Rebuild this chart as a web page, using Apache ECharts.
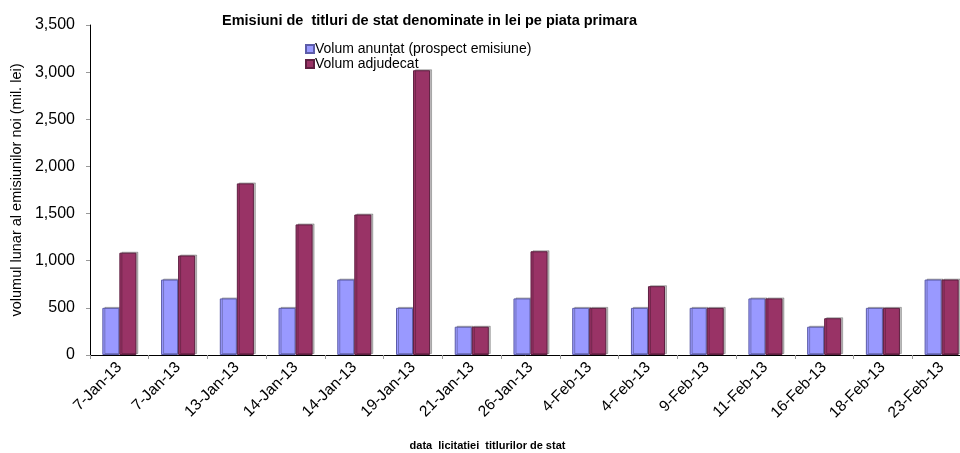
<!DOCTYPE html>
<html>
<head>
<meta charset="utf-8">
<script src="https://cdn.jsdelivr.net/npm/echarts@6/dist/echarts.min.js"></script>
<style>
  html, body { margin: 0; padding: 0; background: #fff; }
  #chart { width: 960px; height: 453px; }
</style>
</head>
<body>
<div id="chart"></div>
<script>
var dates = ['7-Jan-13', '7-Jan-13', '13-Jan-13', '14-Jan-13', '14-Jan-13', '19-Jan-13', '21-Jan-13',
  '26-Jan-13', '4-Feb-13', '4-Feb-13', '9-Feb-13', '11-Feb-13', '16-Feb-13', '18-Feb-13', '23-Feb-13'];
var anuntat = [500, 800, 600, 500, 800, 500, 300, 600, 500, 500, 500, 600, 300, 500, 800];
var adjudecat = [1085, 1055, 1820, 1385, 1490, 3020, 300, 1100, 500, 730, 500, 600, 390, 500, 800];
var yTicks = [0, 500, 1000, 1500, 2000, 2500, 3000, 3500];

var myChart = echarts.init(document.getElementById('chart'));
var font = 'Liberation Sans, Arial, sans-serif';

myChart.setOption({
  backgroundColor: '#fff',
  animation: false,
  textStyle: { fontFamily: font },
  title: {
    text: 'Emisiuni de  titluri de stat denominate in lei pe piata primara',
    left: 217,
    top: 8,
    textStyle: { fontSize: 14.5, fontWeight: 'bold', color: '#000', fontFamily: font }
  },
  legend: {
    orient: 'vertical',
    left: 300,
    top: 37,
    itemWidth: 8,
    itemHeight: 8,
    itemGap: 1,
    icon: 'rect',
    textStyle: { fontSize: 14, color: '#000', fontFamily: font, padding: [0, 0, 0, -4] },
    data: ['Volum anunțat (prospect emisiune)', 'Volum adjudecat']
  },
  grid: { left: 90, width: 881, top: 25, bottom: 98, containLabel: false, outerBoundsMode: 'none' },
  xAxis: {
    type: 'category',
    data: dates,
    name: 'data  licitatiei  titlurilor de stat',
    nameLocation: 'middle',
    nameGap: 85,
    nameTextStyle: { fontSize: 11, fontWeight: 'bold', color: '#000', fontFamily: font, padding: [0, 0, 0, -86] },
    axisLine: { lineStyle: { color: '#000', width: 1 } },
    axisTick: { show: true, length: 4, lineStyle: { color: '#999' } },
    axisLabel: { interval: 0, rotate: 45, fontSize: 15.5, color: '#000', margin: 10, fontFamily: font }
  },
  yAxis: {
    type: 'value',
    min: yTicks[0],
    max: yTicks[yTicks.length - 1],
    interval: 500,
    name: 'volumul lunar al emisiunilor noi (mil. lei)',
    nameLocation: 'middle',
    nameRotate: 90,
    nameGap: 66,
    nameTextStyle: { fontSize: 14.5, color: '#000', fontFamily: font },
    splitLine: { show: false },
    axisLine: { show: true, lineStyle: { color: '#000', width: 1 } },
    axisTick: { show: true, length: 4, lineStyle: { color: '#999' } },
    axisLabel: {
      fontSize: 16, color: '#000', margin: 15, fontFamily: font,
      formatter: function (v) { return v.toLocaleString('en-US'); }
    }
  },
  series: [
    {
      name: 'Volum anunțat (prospect emisiune)',
      type: 'bar',
      data: anuntat,
      barGap: '0%',
      barCategoryGap: '42%',
      itemStyle: {
        color: '#9999ff', borderColor: '#5c5ca8', borderWidth: 1,
        shadowColor: 'rgba(0,0,0,0.25)', shadowOffsetX: 2, shadowOffsetY: -1, shadowBlur: 0
      }
    },
    {
      name: 'Volum adjudecat',
      type: 'bar',
      data: adjudecat,
      barGap: '0%',
      barCategoryGap: '42%',
      itemStyle: {
        color: '#993366', borderColor: '#5e1f40', borderWidth: 1,
        shadowColor: 'rgba(0,0,0,0.25)', shadowOffsetX: 2, shadowOffsetY: -1, shadowBlur: 0
      }
    }
  ]
});
</script>
</body>
</html>
